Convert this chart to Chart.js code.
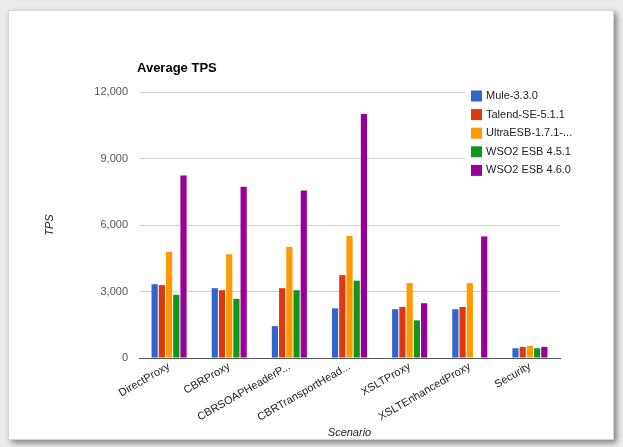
<!DOCTYPE html>
<html><head><meta charset="utf-8">
<script src="https://cdn.jsdelivr.net/npm/chart.js@4.4.1/dist/chart.umd.min.js"></script>
<style>
html,body{margin:0;padding:0;background:#fff;}
#wrap{position:relative;width:623px;height:447px;overflow:hidden;background:#ececec;}
#card{position:absolute;left:8px;top:10px;width:604px;height:428px;background:#fff;border:1px solid #d4d4d4;box-shadow:3px 3px 6px rgba(0,0,0,0.45);}
canvas{position:absolute;left:0;top:0;}
</style></head><body>
<div id="wrap"><div id="card"></div><canvas id="c" width="623" height="447"></canvas></div>
<script>
const categories = ["DirectProxy","CBRProxy","CBRSOAPHeaderP...","CBRTransportHead...","XSLTProxy","XSLTEnhancedProxy","Security"];
const seriesNames = ["Mule-3.3.0","Talend-SE-5.1.1","UltraESB-1.7.1-...","WSO2 ESB 4.5.1","WSO2 ESB 4.6.0"];
const mule    = [3330, 3150, 1440, 2240, 2200, 2200, 440];
const talend  = [3290, 3060, 3150, 3740, 2300, 2300, 500];
const ultra   = [4790, 4680, 5010, 5510, 3380, 3380, 545];
const wso2451 = [2850, 2670, 3060, 3490, 1700, 0, 440];
const wso2460 = [8230, 7730, 7560, 11010, 2470, 5485, 500];
const yTicks = [0, 3000, 6000, 9000, 12000];
const colors = ["#3366cc","#dc3912","#ff9900","#109618","#990099"];
const seriesValues = [mule, talend, ultra, wso2451, wso2460];

const FONT = "'Liberation Sans', Arial, sans-serif";

const overlay = {
  id: 'overlay',
  afterDraw(chart) {
    const ctx = chart.ctx;
    const a = chart.chartArea;
    ctx.save();
    // title
    ctx.fillStyle = '#000';
    ctx.font = 'bold 13px ' + FONT;
    ctx.textAlign = 'left';
    ctx.textBaseline = 'middle';
    ctx.fillText('Average TPS', 137, 68);
    // axis titles
    ctx.fillStyle = '#222';
    ctx.font = 'italic 11px ' + FONT;
    ctx.textAlign = 'center';
    ctx.fillText('Scenario', (a.left + a.right) / 2, 433);
    ctx.save();
    ctx.translate(50, (a.top + a.bottom) / 2);
    ctx.rotate(-Math.PI / 2);
    ctx.fillText('TPS', 0, 0);
    ctx.restore();
    // legend
    ctx.fillStyle = '#fff';
    ctx.fillRect(465, 86, 146, 96);
    ctx.font = '11px ' + FONT;
    ctx.textAlign = 'left';
    chart.data.datasets.forEach((ds, i) => {
      const y = 96 + i * 18.6;
      ctx.fillStyle = ds.backgroundColor;
      ctx.fillRect(471, y - 5.5, 11, 11);
      ctx.fillStyle = '#222';
      ctx.fillText(ds.label, 486, y);
    });
    ctx.restore();
  }
};

new Chart(document.getElementById('c'), {
  type: 'bar',
  data: {
    labels: categories,
    datasets: seriesNames.map((n, i) => ({
      label: n,
      data: seriesValues[i],
      backgroundColor: colors[i],
      borderWidth: 0,
      categoryPercentage: 0.6,
      barPercentage: 0.86
    }))
  },
  options: {
    responsive: false,
    animation: false,
    devicePixelRatio: 1,
    layout: { padding: { top: 92, right: 63, left: 0, bottom: 0 } },
    plugins: { legend: { display: false }, title: { display: false }, tooltip: { enabled: false } },
    scales: {
      y: {
        min: 0, max: 12000,
        afterBuildTicks: s => { s.ticks = yTicks.map(v => ({ value: v })); },
        ticks: {
          font: { family: FONT, size: 11 },
          color: '#555',
          padding: 11,
          callback: v => Number(v).toLocaleString('en-US')
        },
        grid: { color: '#d0d0d0', drawTicks: false, lineWidth: 1 },
        border: { display: false },
        afterFit: s => { s.width = 139; }
      },
      x: {
        ticks: {
          font: { family: FONT, size: 11 },
          color: '#222',
          minRotation: 30, maxRotation: 30,
          autoSkip: false,
          padding: 2
        },
        grid: { display: false, drawTicks: false },
        border: { display: true, color: '#555', width: 1 },
        afterFit: s => { s.height = 89; }
      }
    }
  },
  plugins: [overlay]
});
</script>
</body></html>
